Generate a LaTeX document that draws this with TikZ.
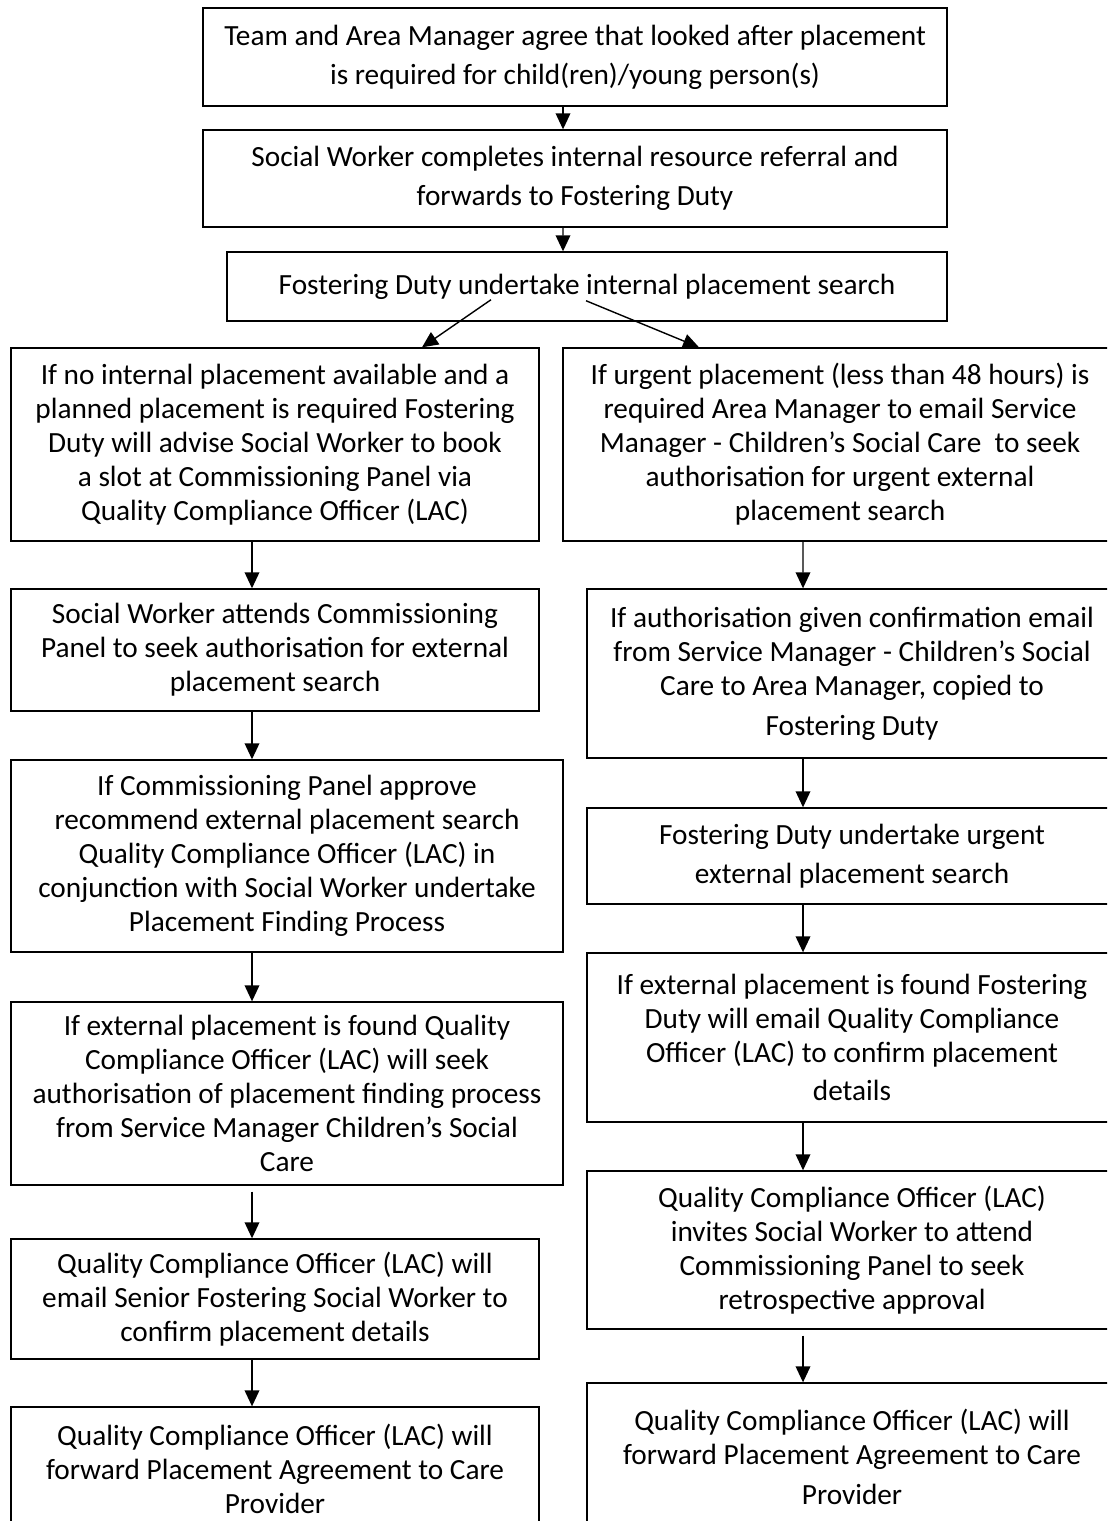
\documentclass[tikz,border=0pt]{standalone}
\usepackage{fontspec}
\setmainfont{Carlito}
\usetikzlibrary{arrows.meta}

\begin{document}
\begin{tikzpicture}[
        box/.style={rectangle, draw, line width=0.6pt, align=center, inner sep=0pt,
            font=\fontsize{12.5}{14.5}\selectfont},
        arrow/.style={-{Triangle[length=0.24cm,width=0.22cm]}, line width=0.6pt}
    ]
        \clip (0,0) rectangle (16.605,-22.815);

        % Top of the flow
        \node[box, minimum width=11.16cm, minimum height=1.47cm] (team) at (8.625,-0.855)
            {Team and Area Manager agree that looked after placement\\[2.2pt]
             is required for child(ren)/young person(s)};
        \node[box, minimum width=11.16cm, minimum height=1.455cm] (referral) at (8.625,-2.678)
            {Social Worker completes internal resource referral and\\[2.2pt]
             forwards to Fostering Duty};
        \node[box, minimum width=10.8cm, minimum height=1.035cm] (search) at (8.805,-4.298)
            {Fostering Duty undertake internal placement search};

        % Planned placement (left column)
        \node[box, minimum width=7.92cm, minimum height=2.895cm] (planned) at (4.125,-6.668)
            {If no internal placement available and a\\
             planned placement is required Fostering\\
             Duty will advise Social Worker to book\\
             a slot at Commissioning Panel via\\
             Quality Compliance Officer (LAC)};
        \node[box, minimum width=7.92cm, minimum height=1.83cm] (panel) at (4.125,-9.75)
            {Social Worker attends Commissioning\\
             Panel to seek authorisation for external\\
             placement search};
        \node[box, minimum width=8.28cm, minimum height=2.88cm] (approve) at (4.305,-12.84)
            {If Commissioning Panel approve\\
             recommend external placement search\\
             Quality Compliance Officer (LAC) in\\
             conjunction with Social Worker undertake\\
             Placement Finding Process};
        \node[box, minimum width=8.28cm, minimum height=2.745cm] (found) at (4.305,-16.403)
            {If external placement is found Quality\\
             Compliance Officer (LAC) will seek\\
             authorisation of placement finding process\\
             from Service Manager Children's Social\\
             Care};
        \node[box, minimum width=7.92cm, minimum height=1.8cm] (senior) at (4.125,-19.485)
            {Quality Compliance Officer (LAC) will\\
             email Senior Fostering Social Worker to\\
             confirm placement details};
        \node[box, minimum width=7.92cm, minimum height=1.845cm] (agreement) at (4.125,-22.028)
            {Quality Compliance Officer (LAC) will\\
             forward Placement Agreement to Care\\
             Provider};

        % Urgent placement (right column)
        \node[box, minimum width=8.31cm, minimum height=2.895cm] (urgent) at (12.6,-6.668)
            {If urgent placement (less than 48 hours) is\\
             required Area Manager to email Service\\
             Manager - Children's Social Care\ \ to seek\\
             authorisation for urgent external\\
             placement search};
        \node[box, minimum width=7.95cm, minimum height=2.535cm] (given) at (12.78,-10.103)
            {If authorisation given confirmation email\\
             from Service Manager - Children's Social\\
             Care to Area Manager, copied to\\[2.6pt]
             Fostering Duty};
        \node[box, minimum width=7.95cm, minimum height=1.44cm] (external) at (12.78,-12.84)
            {Fostering Duty undertake urgent\\[2.2pt]
             external placement search};
        \node[box, minimum width=7.95cm, minimum height=2.535cm] (confirm) at (12.78,-15.563)
            {If external placement is found Fostering\\
             Duty will email Quality Compliance\\
             Officer (LAC) to confirm placement\\[1.8pt]
             details};
        \node[box, minimum width=7.95cm, minimum height=2.37cm] (invite) at (12.78,-18.75)
            {Quality Compliance Officer (LAC)\\
             invites Social Worker to attend\\
             Commissioning Panel to seek\\
             retrospective approval};
        \node[box, minimum width=7.95cm, minimum height=2.205cm] (provider) at (12.78,-21.848)
            {Quality Compliance Officer (LAC) will\\
             forward Placement Agreement to Care\\[2.6pt]
             Provider};

        % Arrows down the top
        \draw[arrow] ([xshift=-0.18cm]team.south) -- ([xshift=-0.18cm]referral.north);
        \draw[arrow] ([xshift=-0.18cm]referral.south) -- ([xshift=-0.36cm]search.north);
        \draw[arrow] ([xshift=-1.44cm,yshift=0.33cm]search.south) -- ([xshift=2.205cm]planned.north);
        \draw[arrow] ([xshift=-0.015cm,yshift=0.315cm]search.south) -- ([xshift=-2.115cm]urgent.north);

        % Left column arrows
        \draw[arrow] ([xshift=-0.345cm]planned.south) -- ([xshift=-0.345cm]panel.north);
        \draw[arrow] ([xshift=-0.345cm]panel.south) -- ([xshift=-0.525cm]approve.north);
        \draw[arrow] ([xshift=-0.525cm]approve.south) -- ([xshift=-0.525cm]found.north);
        \draw[arrow] ([xshift=-0.525cm,yshift=-0.09cm]found.south) -- ([xshift=-0.345cm]senior.north);
        \draw[arrow] ([xshift=-0.345cm]senior.south) -- ([xshift=-0.345cm]agreement.north);

        % Right column arrows
        \draw[arrow] ([xshift=-0.555cm]urgent.south) -- ([xshift=-0.735cm]given.north);
        \draw[arrow] ([xshift=-0.735cm]given.south) -- ([xshift=-0.735cm]external.north);
        \draw[arrow] ([xshift=-0.735cm]external.south) -- ([xshift=-0.735cm]confirm.north);
        \draw[arrow] ([xshift=-0.735cm]confirm.south) -- ([xshift=-0.735cm]invite.north);
        \draw[arrow] ([xshift=-0.735cm,yshift=-0.09cm]invite.south) -- ([xshift=-0.735cm]provider.north);
    \end{tikzpicture}
\end{document}
